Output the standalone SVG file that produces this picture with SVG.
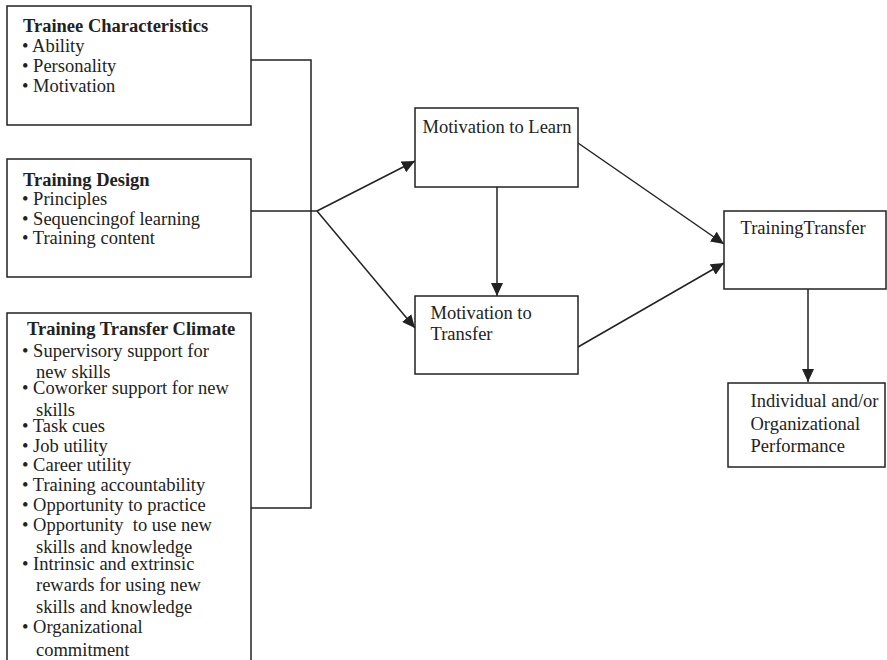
<svg xmlns="http://www.w3.org/2000/svg" width="887" height="660" viewBox="0 0 887 660">
<style>
  .box { fill: #ffffff; stroke: #222222; stroke-width: 1.5; }
  .line { fill: none; stroke: #222222; stroke-width: 1.5; }
  .t { font-family: "Liberation Serif", "Times New Roman", serif; font-size: 18.5px; fill: #222222; }
  .b { font-weight: bold; }
</style>
<defs>
  <marker id="arr" markerUnits="userSpaceOnUse" markerWidth="14" markerHeight="12" refX="13" refY="6" orient="auto">
    <path d="M0,0 L13,6 L0,12 Z" fill="#222222"/>
  </marker>
</defs>
<rect width="887" height="660" fill="#ffffff"/>

<g id="connectors">
  <polyline class="line" points="251,60 311,60 311,508 251,508"/>
  <line class="line" x1="251" y1="211" x2="317" y2="211"/>
  <line class="line" x1="317" y1="211" x2="415" y2="161" marker-end="url(#arr)"/>
  <line class="line" x1="317" y1="211" x2="415" y2="328" marker-end="url(#arr)"/>
  <line class="line" x1="497" y1="187" x2="497" y2="296" marker-end="url(#arr)"/>
  <line class="line" x1="578" y1="143" x2="724" y2="244" marker-end="url(#arr)"/>
  <line class="line" x1="578" y1="347" x2="724" y2="263" marker-end="url(#arr)"/>
  <line class="line" x1="808" y1="289" x2="808" y2="382" marker-end="url(#arr)"/>
</g>

<g id="trainee-characteristics">
  <rect class="box" x="7" y="6" width="244" height="119"/>
  <text class="t b" x="23" y="32">Trainee Characteristics</text>
  <text class="t" x="22" y="52">• Ability</text>
  <text class="t" x="22" y="72">• Personality</text>
  <text class="t" x="22" y="92">• Motivation</text>
</g>

<g id="training-design">
  <rect class="box" x="7" y="159" width="244" height="118"/>
  <text class="t b" x="23" y="185.5">Training Design</text>
  <text class="t" x="22" y="205">• Principles</text>
  <text class="t" x="22" y="224.5">• Sequencingof learning</text>
  <text class="t" x="22" y="244">• Training content</text>
</g>

<g id="training-transfer-climate">
  <rect class="box" x="7" y="313" width="244" height="360"/>
  <text class="t b" x="27" y="335">Training Transfer Climate</text>
  <text class="t" x="22" y="357">• Supervisory support for</text>
  <text class="t" x="36" y="377.5">new skills</text>
  <text class="t" x="22" y="394">• Coworker support for new</text>
  <text class="t" x="36" y="416">skills</text>
  <text class="t" x="22" y="431.5">• Task cues</text>
  <text class="t" x="22" y="451.5">• Job utility</text>
  <text class="t" x="22" y="470.5">• Career utility</text>
  <text class="t" x="22" y="490.5">• Training accountability</text>
  <text class="t" x="22" y="510.5">• Opportunity to practice</text>
  <text class="t" x="22" y="530.5" xml:space="preserve">• Opportunity  to use new</text>
  <text class="t" x="36" y="553">skills and knowledge</text>
  <text class="t" x="22" y="570">• Intrinsic and extrinsic</text>
  <text class="t" x="36" y="591">rewards for using new</text>
  <text class="t" x="36" y="613">skills and knowledge</text>
  <text class="t" x="22" y="633">• Organizational</text>
  <text class="t" x="36" y="655.5">commitment</text>
</g>

<g id="motivation-to-learn">
  <rect class="box" x="415" y="108" width="163" height="79"/>
  <text class="t" x="422.5" y="132.5">Motivation to Learn</text>
</g>

<g id="motivation-to-transfer">
  <rect class="box" x="415" y="296" width="163" height="78"/>
  <text class="t" x="430.5" y="318.5">Motivation to</text>
  <text class="t" x="430.5" y="340">Transfer</text>
</g>

<g id="training-transfer">
  <rect class="box" x="724" y="211" width="162" height="78"/>
  <text class="t" x="740.5" y="233.5">TrainingTransfer</text>
</g>

<g id="performance">
  <rect class="box" x="728" y="383" width="157" height="84"/>
  <text class="t" x="750.5" y="407">Individual and/or</text>
  <text class="t" x="750.5" y="429.5">Organizational</text>
  <text class="t" x="750.5" y="451.5">Performance</text>
</g>
</svg>
